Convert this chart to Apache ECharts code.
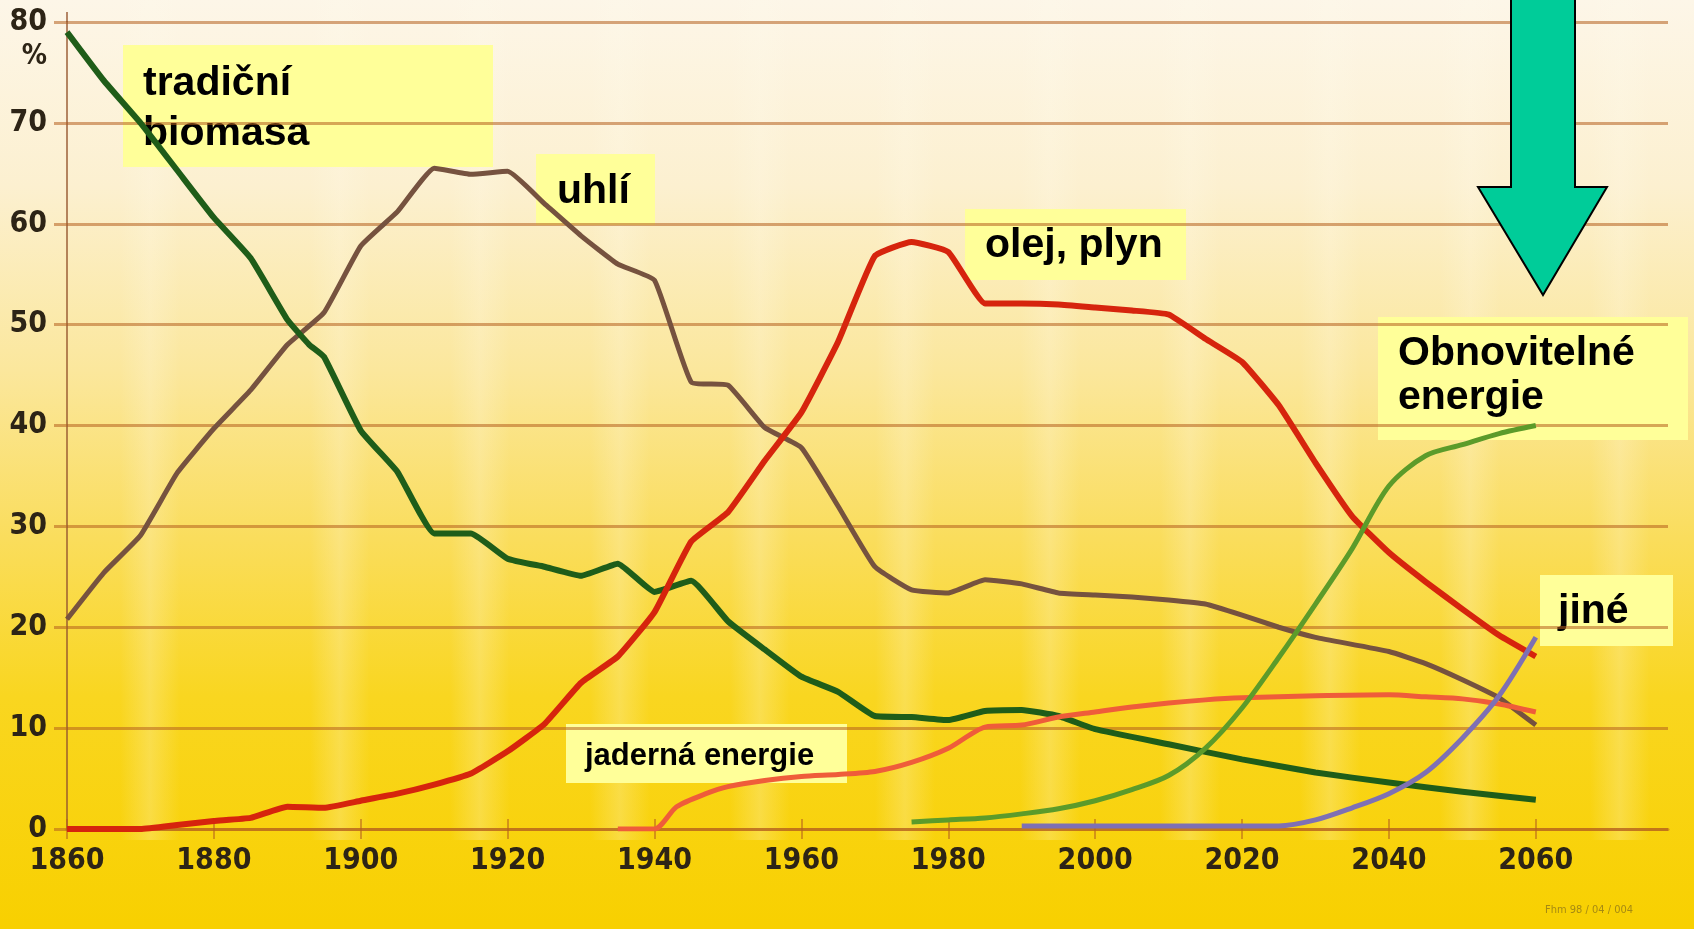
<!DOCTYPE html>
<html>
<head>
<meta charset="utf-8">
<title>Podíl zdrojů energie 1860-2060</title>
<script src="https://cdn.jsdelivr.net/npm/echarts@6/dist/echarts.min.js"></script>
<style>
  html, body { margin: 0; padding: 0; }
  #chart { width: 1694px; height: 929px; }
</style>
</head>
<body>
<div id="chart"></div>
<script>
'use strict';

// osa x - roky s popiskem
var yearTicks = [1860, 1880, 1900, 1920, 1940, 1960, 1980, 2000, 2020, 2040, 2060];

// tradiční biomasa
var biomasaYears = [1860, 1865, 1870, 1875, 1880, 1885, 1890, 1893, 1895, 1900, 1905, 1910, 1915, 1920, 1925, 1930, 1935, 1940, 1945, 1950,
  1955, 1960, 1965, 1970, 1975, 1980, 1985, 1990, 1995, 2000, 2010, 2020, 2030, 2040, 2050, 2060];
var biomasaValues = [79, 74.2, 70, 65.3, 60.6, 56.6, 50.5, 48.0, 46.8, 39.5, 35.4, 29.3, 29.3, 26.8, 26.0, 25.1, 26.3, 23.5, 24.6, 20.6,
  17.8, 15.1, 13.6, 11.2, 11.1, 10.8, 11.7, 11.8, 11.2, 9.9, 8.4, 6.9, 5.6, 4.6, 3.7, 2.9];

// uhlí
var uhliYears = [1860, 1865, 1870, 1875, 1880, 1885, 1890, 1895, 1900, 1905, 1910, 1915, 1920, 1925, 1930, 1935, 1940, 1945, 1950, 1955,
  1960, 1965, 1970, 1975, 1980, 1985, 1990, 1995, 2000, 2005, 2010, 2015, 2020, 2025, 2030, 2040, 2045, 2050, 2055, 2060];
var uhliValues = [20.8, 25.4, 29.1, 35.3, 39.7, 43.5, 48.0, 51.2, 57.8, 61.2, 65.5, 64.9, 65.2, 62.0, 58.8, 56.0, 54.4, 44.3, 44.0, 39.8,
  37.8, 32.0, 26.0, 23.7, 23.4, 24.7, 24.3, 23.4, 23.2, 23.0, 22.7, 22.3, 21.2, 20.0, 19.0, 17.6, 16.4, 14.8, 13.0, 10.3];

// olej, plyn
var olejYears = [1860, 1870, 1875, 1880, 1885, 1890, 1895, 1900, 1905, 1910, 1915, 1920, 1925, 1930, 1935, 1940, 1945, 1950, 1955, 1960,
  1965, 1970, 1975, 1980, 1985, 1990, 1995, 2000, 2005, 2010, 2015, 2020, 2025, 2030, 2035, 2040, 2045, 2050, 2055, 2060];
var olejValues = [0, 0, 0.4, 0.8, 1.1, 2.2, 2.1, 2.8, 3.5, 4.4, 5.5, 7.7, 10.4, 14.5, 17.1, 21.5, 28.5, 31.4, 36.5, 41.3,
  48.3, 56.8, 58.2, 57.2, 52.1, 52.1, 52.0, 51.7, 51.4, 51.0, 48.6, 46.3, 42.0, 36.3, 31.0, 27.4, 24.5, 21.8, 19.2, 17.1];

// jaderná energie
var jadernaYears = [1935, 1940, 1943, 1947, 1950, 1955, 1960, 1965, 1970, 1975, 1980, 1985, 1990, 1995, 2000, 2005, 2010, 2015, 2020, 2030,
  2040, 2045, 2050, 2055, 2060];
var jadernaValues = [0, 0, 2.2, 3.5, 4.2, 4.8, 5.2, 5.4, 5.7, 6.6, 8.0, 10.1, 10.3, 11.1, 11.6, 12.1, 12.5, 12.8, 13.0, 13.2,
  13.3, 13.1, 12.9, 12.4, 11.6];

// obnovitelné energie
var obnovYears = [1975, 1980, 1985, 1990, 1995, 2000, 2005, 2010, 2015, 2020, 2025, 2030, 2035, 2040, 2045, 2050, 2055, 2060];
var obnovValues = [0.7, 0.9, 1.1, 1.5, 2.0, 2.8, 3.9, 5.3, 8.0, 12.0, 17.0, 22.3, 27.8, 34.0, 37.0, 38.1, 39.2, 40.0];

// jiné
var jineYears = [1990, 2000, 2010, 2020, 2025, 2030, 2035, 2040, 2045, 2050, 2055, 2060];
var jineValues = [0.3, 0.3, 0.3, 0.3, 0.3, 0.9, 2.1, 3.5, 5.6, 9.0, 13.2, 19.0];

// světlé svislé pruhy v pozadí (x v px)
var streakX = [150, 340, 480, 620, 760, 905, 1050, 1190, 1330, 1470, 1620];

function pairs(xs, ys) {
  var out = [];
  for (var i = 0; i < xs.length; i++) {
    out.push([xs[i], ys[i]]);
  }
  return out;
}

var gridColor = 'rgba(180, 95, 30, 0.55)';
var axisFont = "'DejaVu Sans Condensed', 'Liberation Sans Narrow', sans-serif";
var labelFont = "'Liberation Sans', Arial, sans-serif";

function lineSeries(name, years, values, color, width, smooth) {
  return {
    name: name,
    type: 'line',
    data: pairs(years, values),
    showSymbol: false,
    smooth: smooth,
    lineStyle: { color: color, width: width, cap: 'butt', join: 'round' },
    itemStyle: { color: color },
    z: 3
  };
}

// žluté štítky s textem
function tag(x, y, w, h, lines, fontSize) {
  var children = [{
    type: 'rect',
    shape: { x: x, y: y, width: w, height: h },
    style: { fill: '#ffff99' }
  }];
  for (var i = 0; i < lines.length; i++) {
    children.push({
      type: 'text',
      style: {
        text: lines[i].t, x: lines[i].x, y: lines[i].y,
        fill: '#000', fontSize: fontSize, fontWeight: 'bold', fontFamily: labelFont,
        verticalAlign: 'middle', align: 'left'
      }
    });
  }
  return { type: 'group', z: 100, children: children };
}

function streaks() {
  var out = [];
  for (var i = 0; i < streakX.length; i++) {
    out.push({
      type: 'rect', z: -10, silent: true,
      shape: { x: streakX[i] - 30, y: 0, width: 60, height: 840 },
      style: {
        fill: {
          type: 'linear', x: 0, y: 0, x2: 1, y2: 0,
          colorStops: [
            { offset: 0, color: 'rgba(255,250,235,0)' },
            { offset: 0.5, color: 'rgba(255,250,235,0.24)' },
            { offset: 1, color: 'rgba(255,250,235,0)' }
          ]
        }
      }
    });
  }
  return out;
}

var chart = echarts.init(document.getElementById('chart'));

var option = {
  animation: false,
  backgroundColor: {
    type: 'linear', x: 0, y: 0, x2: 0, y2: 1,
    colorStops: [
      { offset: 0, color: '#fdf6e8' },
      { offset: 0.2, color: '#fcf0d0' },
      { offset: 0.4, color: '#fbe79c' },
      { offset: 0.58, color: '#fadd5c' },
      { offset: 0.75, color: '#f9d620' },
      { offset: 1, color: '#f8d000' }
    ]
  },
  grid: { left: 67, right: 26, top: 22, bottom: 100 },
  xAxis: [{
    type: 'value',
    min: 1860,
    max: 2078,
    interval: 20,
    axisLine: { show: true, lineStyle: { color: gridColor, width: 3 } },
    axisTick: { show: true, length: 10, customValues: yearTicks, lineStyle: { color: gridColor, width: 2 } },
    splitLine: { show: false },
    axisLabel: {
      margin: 17,
      customValues: yearTicks,
      color: '#2d2416',
      fontSize: 30,
      fontWeight: 'bold',
      fontFamily: axisFont,
      formatter: function (v) {
        return String(v);
      }
    }
  }, {
    type: 'value',
    position: 'bottom',
    min: 1860,
    max: 2078,
    interval: 20,
    axisLine: { show: false },
    axisTick: { show: true, inside: true, length: 10, customValues: yearTicks, lineStyle: { color: gridColor, width: 2 } },
    axisLabel: { show: false },
    splitLine: { show: false }
  }],
  yAxis: {
    type: 'value',
    min: 0,
    max: 80,
    interval: 10,
    axisLine: { show: true, lineStyle: { color: 'rgba(150, 85, 45, 0.7)', width: 2 } },
    axisTick: { show: true, length: 13, lineStyle: { color: gridColor, width: 3 } },
    splitLine: { show: true, lineStyle: { color: gridColor, width: 3 } },
    axisLabel: {
      margin: 20,
      color: '#2d2416',
      fontSize: 30,
      fontWeight: 'bold',
      fontFamily: axisFont
    }
  },
  series: [
    lineSeries('uhlí', uhliYears, uhliValues, '#76523f', 5, 0.12),
    lineSeries('tradiční biomasa', biomasaYears, biomasaValues, '#1f5d19', 6, 0.12),
    lineSeries('jaderná energie', jadernaYears, jadernaValues, '#ef5c3a', 5, 0.25),
    lineSeries('olej, plyn', olejYears, olejValues, '#d6240d', 6, 0.12),
    lineSeries('Obnovitelné energie', obnovYears, obnovValues, '#5c9b2a', 5, 0.3),
    lineSeries('jiné', jineYears, jineValues, '#7e70b4', 5, 0.3)
  ],
  graphic: streaks().concat([
    {
      type: 'line', z: 1, silent: true,
      shape: { x1: 67, y1: 12, x2: 67, y2: 22 },
      style: { stroke: 'rgba(150, 85, 45, 0.7)', lineWidth: 2 }
    },
    {
      type: 'text', z: 50,
      style: {
        text: '%', x: 47, y: 57, align: 'right', verticalAlign: 'middle',
        fill: '#2d2416', fontSize: 28, fontWeight: 'bold', fontFamily: axisFont
      }
    },
    tag(123, 45, 370, 122, [{ t: 'tradiční', x: 143, y: 84 }, { t: 'biomasa', x: 143, y: 134 }], 41),
    tag(536, 154, 119, 71, [{ t: 'uhlí', x: 557, y: 192 }], 41),
    tag(965, 209, 221, 71, [{ t: 'olej, plyn', x: 985, y: 246 }], 41),
    tag(1378, 317, 310, 123, [{ t: 'Obnovitelné', x: 1398, y: 354 }, { t: 'energie', x: 1398, y: 398 }], 41),
    tag(1540, 575, 133, 71, [{ t: 'jiné', x: 1558, y: 612 }], 41),
    tag(566, 724, 281, 59, [{ t: 'jaderná energie', x: 585, y: 756 }], 31),
    {
      type: 'polygon', z: 100,
      shape: {
        points: [[1511, -5], [1575, -5], [1575, 187], [1607, 187], [1543, 295], [1478, 187], [1511, 187]]
      },
      style: { fill: '#00cc99', stroke: '#000', lineWidth: 2 }
    },
    {
      type: 'text', z: 50,
      style: {
        text: 'Fhm 98 / 04 / 004', x: 1545, y: 910, verticalAlign: 'middle',
        fill: 'rgba(110, 90, 30, 0.6)', fontSize: 11, fontFamily: axisFont
      }
    }
  ])
};

chart.setOption(option);
</script>
</body>
</html>
